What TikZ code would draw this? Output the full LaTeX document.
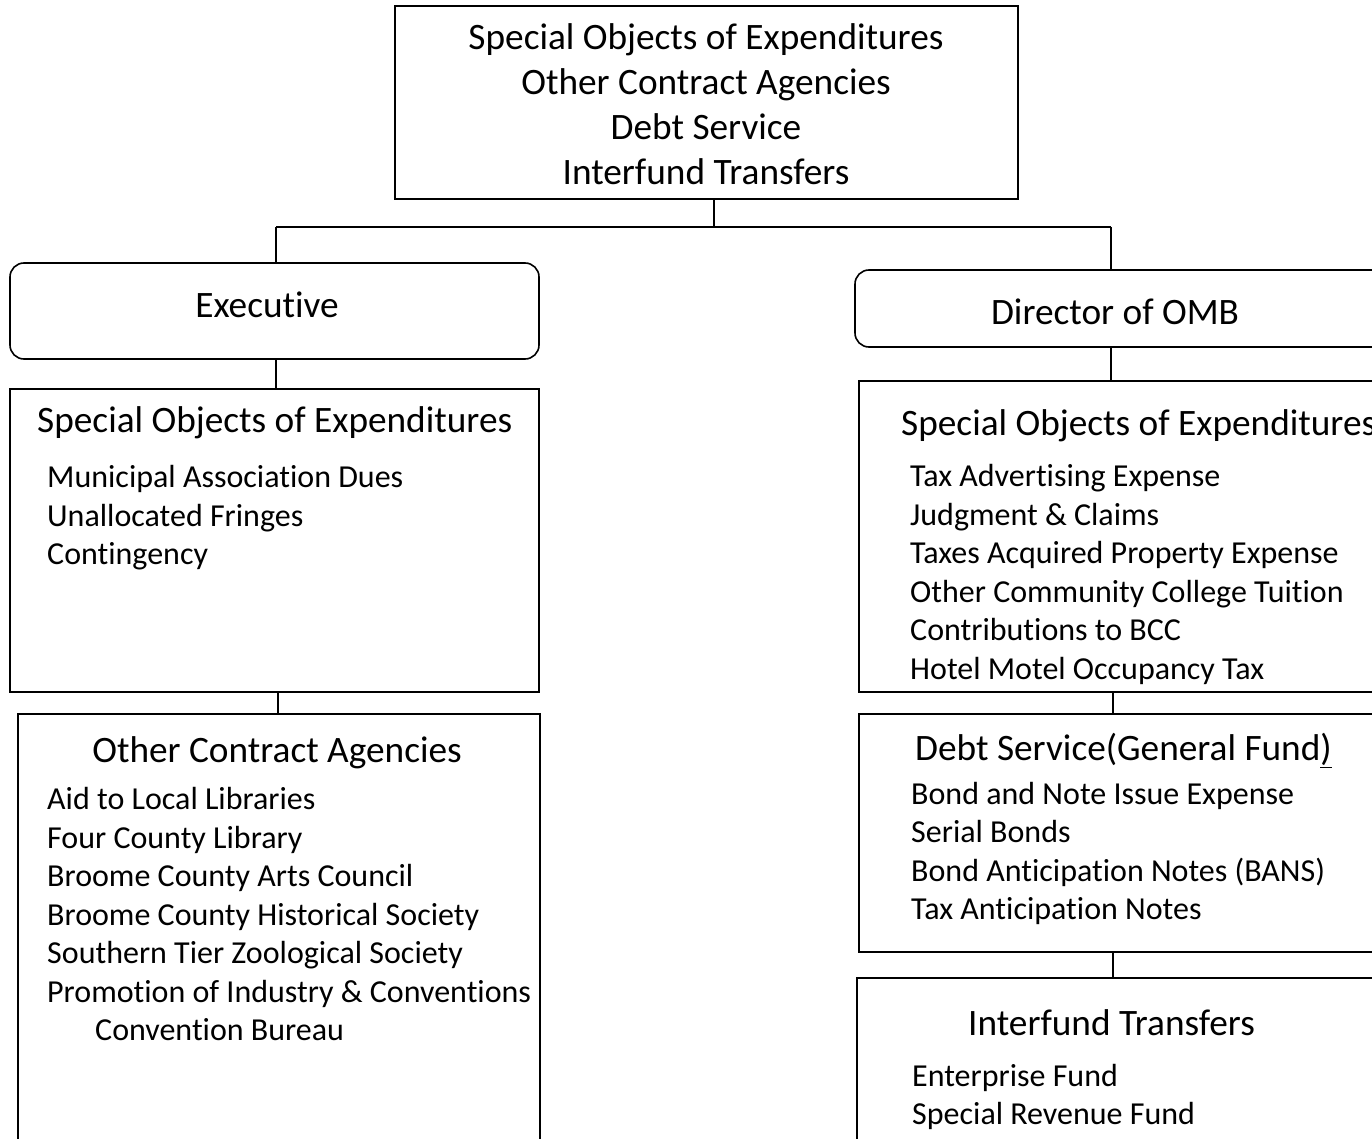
\documentclass[tikz,border=0pt]{standalone}
\usepackage{fontspec}
\setmainfont{Carlito}[RawFeature=-liga]
\begin{document}
\begin{tikzpicture}[x=1pt,y=-1pt,
  box/.style={draw=black, line width=1.6pt, inner sep=0pt, outer sep=0pt, anchor=north west},
  rbox/.style={box, rounded corners=14pt},
  conn/.style={draw=black, line width=1.4pt},
  big/.style={font=\fontsize{37.3}{44.8}\selectfont, inner sep=0pt},
  hdr/.style={font=\fontsize{37.3}{44}\selectfont, inner sep=0pt},
  item/.style={font=\fontsize{32}{38.6}\selectfont, inner sep=0pt, anchor=mid west}]
\useasboundingbox (0,0) rectangle (1372,1139);
\clip (0,0) rectangle (1372,1139);
\fill[white] (0,0) rectangle (1372,1139);
% boxes
\node[box, minimum width=623pt, minimum height=193pt] (top) at (395,6) {};
\node[rbox, minimum width=529pt, minimum height=96pt] (exec) at (10,263) {};
\node[rbox, minimum width=540pt, minimum height=77pt] (dir) at (855,270) {};
\node[box, minimum width=529pt, minimum height=303pt] (soeL) at (10,389) {};
\node[box, minimum width=522pt, minimum height=460pt] (oca) at (18,714) {};
\node[box, minimum width=540pt, minimum height=311pt] (soeR) at (859,381) {};
\node[box, minimum width=540pt, minimum height=238pt] (debt) at (859,714) {};
\node[box, minimum width=540pt, minimum height=200pt] (itf) at (857,978) {};
% connectors
\coordinate (j) at (714,227);
\coordinate (jl) at (276,227);
\coordinate (jr) at (1111,227);
\draw[conn] (top.south -| j) -- (j);
\draw[conn] (jl) -- (jr);
\draw[conn] (jl) -- (jl |- exec.north);
\draw[conn] (jr) -- (jr |- dir.north);
\draw[conn] (exec.south -| jl) -- (soeL.north -| jl);
\draw[conn] ([xshift=2pt]soeL.south -| jl) -- ([xshift=2pt]oca.north -| jl);
\draw[conn] (dir.south -| jr) -- (soeR.north -| jr);
\draw[conn] ([xshift=2pt]soeR.south -| jr) -- ([xshift=2pt]debt.north -| jr);
\draw[conn] ([xshift=2pt]debt.south -| jr) -- ([xshift=2pt]itf.north -| jr);
% texts
\node[big, align=center] (toptext) at (706,104) {Special Objects of Expenditures\\Other Contract Agencies\\Debt Service\\Interfund Transfers};
\node[hdr] (exect) at (267,305) {Executive};
\node[hdr] (dirt) at (1115,312) {Director of OMB};
\node[hdr, anchor=mid west] (soeLh) at (37,430) {Special Objects of Expenditures};
\node[item] (l1) at (47,485) {Municipal Association Dues};
\node[item] (l2) at (47,524) {Unallocated Fringes};
\node[item] (l3) at (47,562) {Contingency};
\node[hdr] (ocah) at (277,753) {Other Contract Agencies};
\node[item] (o1) at (47,807) {Aid to Local Libraries};
\node[item] (o2) at (47,846) {Four County Library};
\node[item] (o3) at (47,884) {Broome County Arts Council};
\node[item] (o4) at (47,923) {Broome County Historical Society};
\node[item] (o5) at (47,961) {Southern Tier Zoological Society};
\node[item] (o6) at (47,1000) {Promotion of Industry \& Conventions};
\node[item] (o7) at (95,1038) {Convention Bureau};
\node[hdr, anchor=mid west] (soeRh) at (901,433) {Special Objects of Expenditures};
\node[item] (r1) at (910,484) {Tax Advertising Expense};
\node[item] (r2) at (910,523) {Judgment \& Claims};
\node[item] (r3) at (910,561) {Taxes Acquired Property Expense};
\node[item] (r4) at (910,600) {Other Community College Tuition};
\node[item] (r5) at (910,638) {Contributions to BCC};
\node[item] (r6) at (910,677) {Hotel Motel Occupancy Tax};
\node[hdr, anchor=mid west] (debth) at (915,758) {Debt Service(General Fund\underline{)}};
\node[item] (d1) at (911,802) {Bond and Note Issue Expense};
\node[item] (d2) at (911,840) {Serial Bonds};
\node[item] (d3) at (911,879) {Bond Anticipation Notes (BANS)};
\node[item] (d4) at (911,917) {Tax Anticipation Notes};
\node[hdr, anchor=mid west] (itfh) at (968,1033) {Interfund Transfers};
\node[item] (i1) at (912,1084) {Enterprise Fund};
\node[item] (i2) at (912,1122) {Special Revenue Fund};
\end{tikzpicture}
\end{document}
